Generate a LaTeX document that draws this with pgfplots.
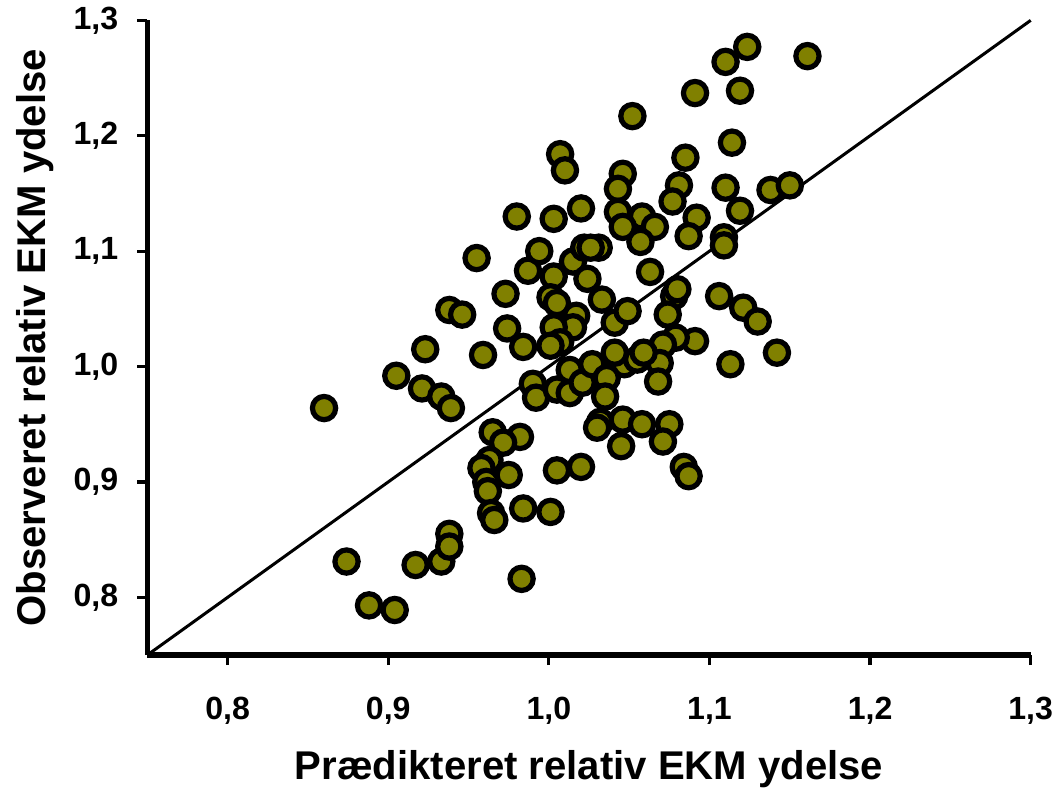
\documentclass[border=0pt]{standalone}
\usepackage{fontspec}
\setmainfont{Liberation Sans}
\usepackage{pgfplots}
\pgfplotsset{compat=1.18}
\usepackage{pgfplotstable}
\definecolor{olivefill}{RGB}{128,128,0}

% predicted (x) vs observed (y) relative EKM performance
\pgfplotstableread{
x y
0.860 0.964
0.874 0.831
0.888 0.793
0.904 0.789
0.905 0.992
0.917 0.828
0.921 0.981
0.923 1.015
0.933 0.974
0.933 0.831
0.938 0.855
0.938 0.844
0.939 0.964
0.938 1.049
0.946 1.045
0.955 1.094
0.959 1.010
0.973 1.063
0.974 1.033
0.984 1.017
0.987 1.083
0.994 1.100
0.990 0.985
0.992 0.973
1.003 1.078
1.001 1.060
1.005 1.055
1.017 1.044
1.015 1.034
1.003 1.034
1.007 1.021
1.001 1.018
1.015 1.091
1.022 1.103
1.024 1.076
1.005 0.980
1.013 0.977
1.013 0.997
1.021 0.986
0.965 0.943
1.007 1.184
1.010 1.170
1.046 1.167
1.043 1.154
1.085 1.181
1.114 1.194
1.081 1.157
1.077 1.143
1.110 1.155
1.138 1.153
1.150 1.157
1.119 1.135
1.092 1.129
1.087 1.113
1.109 1.112
1.109 1.105
1.020 1.137
1.003 1.128
0.980 1.130
1.043 1.134
1.058 1.130
1.066 1.121
1.046 1.121
1.057 1.108
1.063 1.082
1.031 1.103
1.026 1.103
1.033 1.058
1.078 1.061
1.106 1.061
1.121 1.051
1.080 1.067
1.052 1.217
1.1235 1.277
1.110 1.264
1.161 1.269
1.091 1.237
1.119 1.239
1.130 1.039
1.091 1.022
1.142 1.012
1.113 1.002
1.041 1.038
1.049 1.048
1.074 1.045
1.079 1.025
1.071 1.019
1.069 1.003
1.068 0.987
1.047 1.002
1.055 1.006
1.041 1.012
1.059 1.012
1.027 1.002
1.036 0.990
1.035 0.974
1.032 0.952
1.030 0.947
1.046 0.954
1.058 0.950
1.075 0.950
1.071 0.935
1.045 0.931
1.005 0.910
1.020 0.913
1.084 0.913
1.087 0.905
0.982 0.939
0.984 0.877
1.001 0.874
0.9715 0.934
0.963 0.919
0.958 0.912
0.975 0.906
0.961 0.900
0.962 0.892
0.964 0.873
0.966 0.867
0.983 0.816
}\ekmdata

\begin{document}
\begin{tikzpicture}
\begin{axis}[
  scale only axis,
  width=440.5pt, height=316.5pt,
  xmin=0.75, xmax=1.3, ymin=0.75, ymax=1.3,
  axis x line=bottom, axis y line=left,
  axis line style={-, line width=2.8pt},
  x axis line style={line width=2.8pt},
  y axis line style={line width=2.8pt},
  xtick={0.8,0.9,1.0,1.1,1.2,1.3},
  ytick={0.8,0.9,1.0,1.1,1.2,1.3},
  tick align=outside,
  major tick length=5pt,
  tick style={black, line width=1.6pt},
  /pgf/number format/.cd, use comma, fixed, fixed zerofill, precision=1, assume math mode=true,
  /pgfplots/.cd,
  ticklabel style={font=\fontsize{16}{18}\selectfont\bfseries},
  xticklabel style={inner xsep=1.5pt, yshift=-12.4pt},
  yticklabel style={xshift=-6pt},
  label style={font=\fontsize{20}{24}\selectfont\bfseries},
  xlabel={Prædikteret relativ EKM ydelse},
  ylabel={Observeret relativ EKM ydelse},
  xlabel style={at={(axis description cs:0.5,-0.1959)}, anchor=base, inner sep=0pt},
  ylabel style={at={(axis description cs:-0.1158,0.5)}, anchor=base, inner sep=0pt, inner ysep=8pt},
  clip=false,
]
\addplot[only marks, mark=*, mark size=5.8pt,
  mark options={fill=olivefill, draw=black, line width=2.6pt}]
  table[x=x, y=y] {\ekmdata};
\addplot[black, line width=1.5pt] coordinates {(0.75,0.75) (1.3,1.3)};
\end{axis}
\end{tikzpicture}
\end{document}
